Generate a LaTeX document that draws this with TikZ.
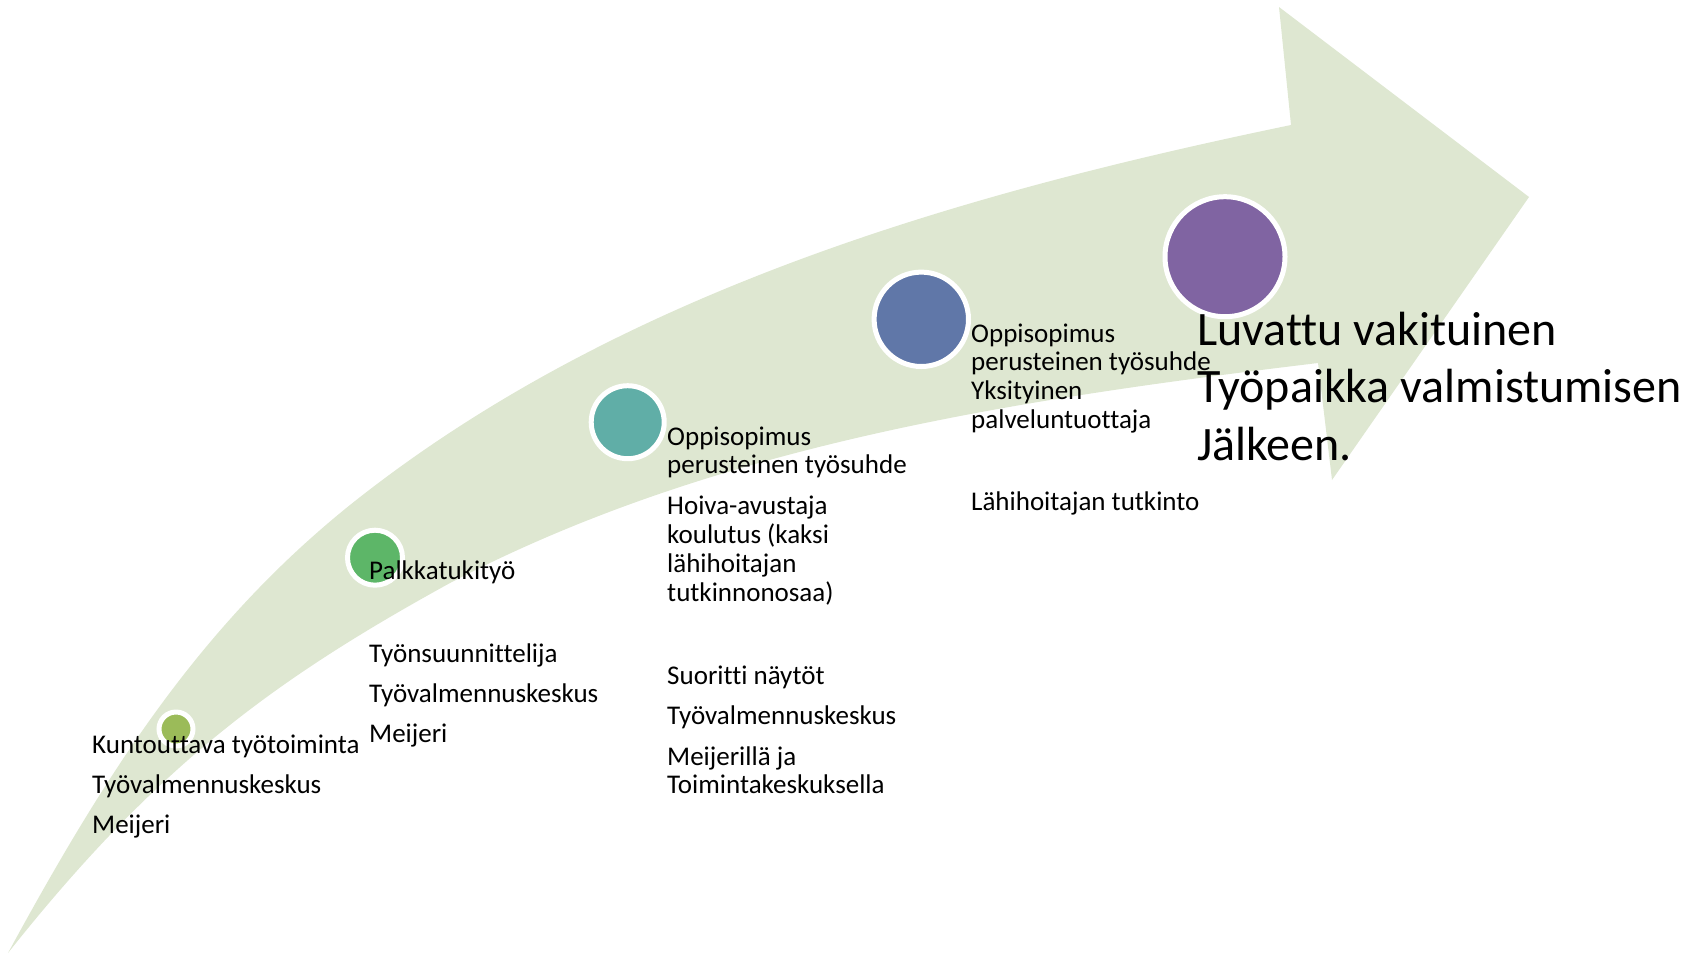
\documentclass[tikz,border=0pt]{standalone}
\usepackage{fontspec}
\setmainfont{Carlito}[Ligatures=NoCommon]
\definecolor{arrowfill}{HTML}{DEE7D1}
\definecolor{cone}{HTML}{9BBB59}
\definecolor{ctwo}{HTML}{5DB668}
\definecolor{cthree}{HTML}{60AEA7}
\definecolor{cfour}{HTML}{6077A8}
\definecolor{cfive}{HTML}{8064A2}
\begin{document}
\begin{tikzpicture}[x=1pt,y=-1pt,
  dot/.style={circle, draw=white, line width=5pt, inner sep=0pt},
  txt/.style={anchor=base west, inner sep=0pt, font=\fontsize{27}{29}\selectfont},
  big/.style={anchor=base west, inner sep=0pt, font=\fontsize{48}{57.5}\selectfont}]
\useasboundingbox (0,0) rectangle (1697,954);
% curved arrow
\fill[arrowfill] (8,953) .. controls (108,769) and (202,624) .. (350,505)
  .. controls (616,292.5) and (958,194) .. (1291,125)
  -- (1279,7) -- (1529,197) -- (1332,480) -- (1318,363)
  .. controls (1020,399) and (716,444) .. (450,583)
  .. controls (274.8,679.4) and (157,765) .. (8,953) -- cycle;
% circles
\node[dot, fill=cone, minimum size=34pt] (c1) at (176,729) {};
\node[dot, fill=ctwo, minimum size=55pt] (c2) at (375,557.7) {};
\node[dot, fill=cthree, minimum size=73pt] (c3) at (627.7,422.2) {};
\node[dot, fill=cfour, minimum size=94.4pt] (c4) at (921.3,319.3) {};
\node[dot, fill=cfive, minimum size=120pt] (c5) at (1225,256.7) {};
% group 1
\node[txt] (g1a) at (92,753) {Kuntouttava työtoiminta};
\node[txt] (g1b) at (92,793) {Työvalmennuskeskus};
\node[txt] (g1c) at (92,833) {Meijeri};
% group 2
\node[txt] (g2a) at (369,579.5) {Palkkatukityö};
\node[txt] (g2b) at (369,662) {Työnsuunnittelija};
\node[txt] (g2c) at (369,702) {Työvalmennuskeskus};
\node[txt] (g2d) at (369,742) {Meijeri};
% group 3
\node[txt] (g3a) at (667,445) {Oppisopimus};
\node[txt] (g3b) at (667,473.5) {perusteinen työsuhde};
\node[txt] (g3c) at (667,514) {Hoiva-avustaja};
\node[txt] (g3d) at (667,543.5) {koulutus (kaksi};
\node[txt] (g3e) at (667,572.5) {lähihoitajan};
\node[txt] (g3f) at (667,601) {tutkinnonosaa)};
\node[txt] (g3g) at (667,684.5) {Suoritti näytöt};
\node[txt] (g3h) at (667,724.5) {Työvalmennuskeskus};
\node[txt] (g3i) at (667,765) {Meijerillä ja};
\node[txt] (g3j) at (667,793.5) {Toimintakeskuksella};
% group 4
\node[txt] (g4a) at (971,342) {Oppisopimus};
\node[txt] (g4b) at (971,370.5) {perusteinen työsuhde};
\node[txt] (g4c) at (971,399) {Yksityinen};
\node[txt] (g4d) at (971,428) {palveluntuottaja};
\node[txt] (g4e) at (971,510.5) {Lähihoitajan tutkinto};
% group 5
\node[big] (g5a) at (1197,345) {Luvattu vakituinen};
\node[big] (g5b) at (1197,402.5) {Työpaikka valmistumisen};
\node[big] (g5c) at (1197,460) {Jälkeen.};
\end{tikzpicture}
\end{document}
